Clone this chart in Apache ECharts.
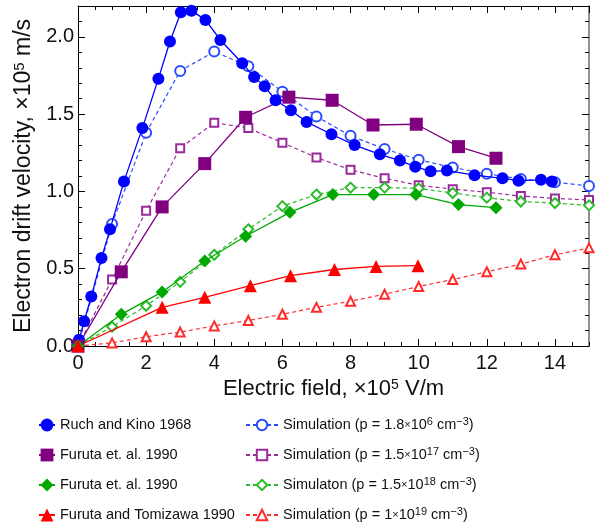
<!DOCTYPE html>
<html>
<head>
<meta charset="utf-8">
<script src="https://cdn.jsdelivr.net/npm/echarts@6/dist/echarts.min.js"></script>
<style>
  html, body { margin: 0; padding: 0; background: #fff; }
  #chart { width: 601px; height: 527px; }
</style>
</head>
<body>
<div id="chart"></div>
<script>
// Electron drift velocity (x10^5 m/s) against electric field (x10^5 V/m)

// Measured data
const ruchField = [0.03, 0.18, 0.39, 0.69, 0.94, 1.35, 1.89, 2.36, 2.70, 3.02, 3.33, 3.74, 4.18, 4.82, 5.17, 5.48, 5.80, 6.25, 6.71, 7.44, 8.12, 8.86, 9.45, 9.90, 10.35, 10.83, 11.64, 12.46, 12.93, 13.59, 13.91];
const ruchVel   = [0.04, 0.16, 0.32, 0.57, 0.755, 1.065, 1.41, 1.73, 1.97, 2.16, 2.17, 2.11, 1.98, 1.83, 1.74, 1.68, 1.59, 1.525, 1.45, 1.37, 1.30, 1.24, 1.20, 1.16, 1.13, 1.135, 1.105, 1.085, 1.07, 1.075, 1.065];

const furuta17Field = [0, 1.27, 2.47, 3.72, 4.92, 6.19, 7.46, 8.66, 9.93, 11.17, 12.27];
const furuta17Vel   = [0, 0.48, 0.90, 1.18, 1.48, 1.61, 1.59, 1.43, 1.435, 1.29, 1.215];

const furuta18Field = [0, 1.27, 2.47, 3.72, 4.92, 6.22, 7.48, 8.68, 9.92, 11.17, 12.27];
const furuta18Vel   = [0, 0.205, 0.35, 0.55, 0.71, 0.865, 0.98, 0.98, 0.98, 0.915, 0.895];

const tomizawaField = [0, 2.47, 3.72, 5.06, 6.24, 7.53, 8.75, 9.98];
const tomizawaVel   = [0, 0.25, 0.315, 0.39, 0.455, 0.495, 0.515, 0.52];

// Simulated data, one value per unit of field
const simField = [0, 1, 2, 3, 4, 5, 6, 7, 8, 9, 10, 11, 12, 13, 14, 15];
const sim6Vel  = [0, 0.79, 1.38, 1.78, 1.905, 1.81, 1.645, 1.485, 1.36, 1.275, 1.205, 1.155, 1.115, 1.08, 1.06, 1.035];
const sim17Vel = [0, 0.43, 0.875, 1.28, 1.445, 1.41, 1.315, 1.22, 1.14, 1.085, 1.04, 1.015, 0.995, 0.97, 0.955, 0.945];
const sim18Vel = [0, 0.125, 0.26, 0.415, 0.59, 0.755, 0.905, 0.98, 1.025, 1.025, 1.02, 0.99, 0.96, 0.935, 0.925, 0.91];
const sim19Vel = [0, 0.02, 0.06, 0.09, 0.13, 0.165, 0.205, 0.25, 0.29, 0.335, 0.385, 0.43, 0.48, 0.53, 0.59, 0.635];

// Axis ticks
const xMajorStep = 2, xMinorStep = 0.5, xMax = 15;
const yMajorStep = 0.5, yMinorStep = 0.1, yMax = 2.2;

// Legend texts (rich text, {s|..} = superscript)
const legendText = {
  ruch: 'Ruch and Kino 1968',
  furuta17: 'Furuta et. al. 1990',
  furuta18: 'Furuta et. al. 1990',
  tomizawa: 'Furuta and Tomizawa 1990',
  sim6: 'Simulation (p = 1.8{x|×}10{s|6} cm{s|−3})',
  sim17: 'Simulation (p = 1.5{x|×}10{s|17} cm{s|−3})',
  sim18: 'Simulaton (p = 1.5{x|×}10{s|18} cm{s|−3})',
  sim19: 'Simulation (p = 1{x|×}10{s|19} cm{s|−3})'
};

const FONT = '"Liberation Sans", Arial, Helvetica, sans-serif';
const pairs = (xs, ys) => xs.map((x, i) => [x, ys[i]]);

function xAx(step, pos, len, major, extra) {
  return Object.assign({
    type: 'value', min: 0, max: xMax, interval: step, position: pos,
    axisLine: { show: major, onZero: false, lineStyle: { color: '#000', width: 1 } },
    axisTick: { show: true, inside: true, length: len, lineStyle: { color: '#000', width: 1 } },
    axisLabel: { show: false },
    splitLine: { show: false }
  }, extra || {});
}
function yAx(step, pos, len, major, extra, lineColor, lineWidth) {
  return Object.assign({
    type: 'value', min: 0, max: yMax, interval: step, position: pos,
    axisLine: { show: major, onZero: false, lineStyle: { color: lineColor || '#000', width: lineWidth || 1 } },
    axisTick: { show: true, inside: true, length: len, lineStyle: { color: '#000', width: 1 } },
    axisLabel: { show: false },
    splitLine: { show: false }
  }, extra || {});
}

const tickLabel = { show: true, fontSize: 20, fontFamily: FONT, color: '#111', showMaxLabel: false };
function nameStyle(size, supSize) {
  return {
    fontSize: size, fontFamily: FONT, color: '#111',
    rich: { s: { fontSize: supSize, fontFamily: FONT, color: '#111', verticalAlign: 'top', lineHeight: supSize } }
  };
}

const BLUE = '#0000ff', PURPLE = '#800080', GREEN = '#00a800', RED = '#ff0000';
const SIM_BLUE = '#2a4cff', SIM_PURPLE = '#9a2a9a', SIM_GREEN = '#2cbb2c', SIM_RED = '#ff2a2a';

function measured(name, xs, ys, color, symbol, size) {
  return {
    name, type: 'line', data: pairs(xs, ys), symbol, symbolSize: size,
    xAxisIndex: 0, yAxisIndex: 0, z: 3,
    lineStyle: { color, width: 1.3 }, itemStyle: { color }
  };
}
function simulated(name, ys, color, symbol, size) {
  return {
    name, type: 'line', data: pairs(simField, ys), symbol, symbolSize: size,
    xAxisIndex: 0, yAxisIndex: 0, z: 2,
    lineStyle: { color, width: 1.2, type: [4, 3] }, itemStyle: { color, borderWidth: 1 }
  };
}

const legendBase = {
  orient: 'vertical', itemGap: 12, selectedMode: false, padding: 0, height: 110,
  formatter: n => legendText[n],
  textStyle: {
    fontSize: 14.5, fontFamily: FONT, color: '#111', lineHeight: 18,
    rich: {
      s: { fontSize: 11, fontFamily: FONT, color: '#111', verticalAlign: 'top', lineHeight: 18 },
      x: { fontSize: 11, fontFamily: FONT, color: '#111', lineHeight: 18 }
    }
  }
};

const chart = echarts.init(document.getElementById('chart'), null, { renderer: 'canvas' });
chart.setOption({
  animation: false,
  backgroundColor: '#fff',
  grid: { left: 78, right: 12, top: 6, bottom: 181, containLabel: false },
  xAxis: [
    xAx(xMajorStep, 'bottom', 7, true, {
      axisLabel: Object.assign({}, tickLabel, { margin: 7 }),
      name: 'Electric field, ×10{s|5} V/m', nameLocation: 'middle', nameGap: 31, nameTextStyle: nameStyle(22, 14)
    }),
    xAx(xMinorStep, 'bottom', 4, false),
    xAx(xMajorStep, 'top', 7, true),
    xAx(xMinorStep, 'top', 4, false)
  ],
  yAxis: [
    yAx(yMajorStep, 'left', 7, true, {
      axisLabel: Object.assign({}, tickLabel, { margin: 4, formatter: v => v.toFixed(1) }),
      name: 'Electron drift velocity, ×10{s|5} m/s', nameLocation: 'middle', nameGap: 38, nameTextStyle: nameStyle(23, 15)
    }),
    yAx(yMinorStep, 'left', 4, false),
    yAx(yMajorStep, 'right', 7, true, null, '#777', 1.6),
    yAx(yMinorStep, 'right', 4, false)
  ],
  legend: [
    Object.assign({}, legendBase, {
      left: 38, top: 416, itemWidth: 16, itemHeight: 16,
      data: ['ruch', 'furuta17', 'furuta18', 'tomizawa']
    }),
    Object.assign({}, legendBase, {
      left: 245, top: 416, itemWidth: 32, itemHeight: 13,
      data: ['sim6', 'sim17', 'sim18', 'sim19']
    })
  ],
  series: [
    simulated('sim6', sim6Vel, SIM_BLUE, 'emptyCircle', 10),
    simulated('sim17', sim17Vel, SIM_PURPLE, 'emptyRect', 8),
    simulated('sim18', sim18Vel, SIM_GREEN, 'emptyDiamond', 10),
    simulated('sim19', sim19Vel, SIM_RED, 'emptyTriangle', 9),
    measured('ruch', ruchField, ruchVel, BLUE, 'circle', 12),
    measured('furuta17', furuta17Field, furuta17Vel, PURPLE, 'rect', 13),
    measured('furuta18', furuta18Field, furuta18Vel, GREEN, 'diamond', 13),
    measured('tomizawa', tomizawaField, tomizawaVel, RED, 'triangle', 13)
  ]
});
</script>
</body>
</html>
